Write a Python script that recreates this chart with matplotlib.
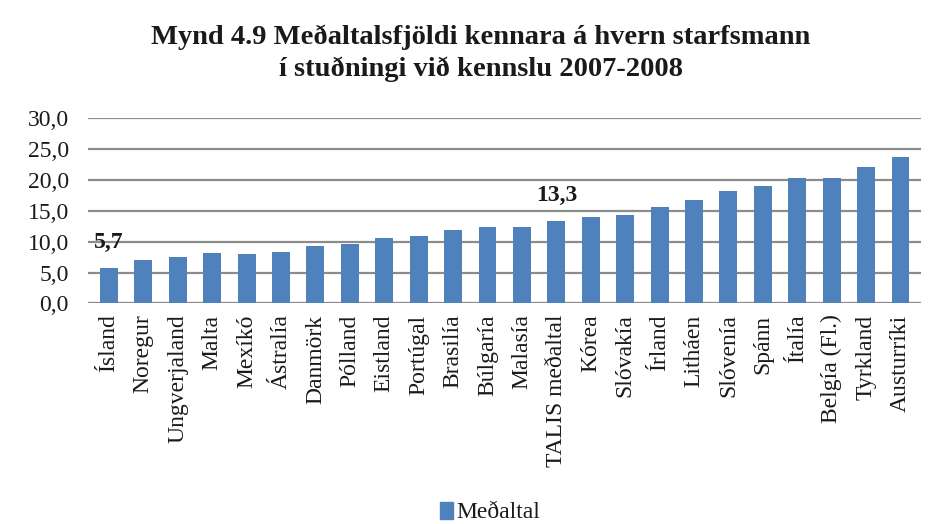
import matplotlib
matplotlib.use("Agg")
import matplotlib.pyplot as plt
from matplotlib.patches import Patch

categories = ["Ísland", "Noregur", "Ungverjaland", "Malta", "Mexíkó", "Ástralía",
              "Danmörk", "Pólland", "Eistland", "Portúgal", "Brasilía", "Búlgaría",
              "Malasía", "TALIS meðaltal", "Kórea", "Slóvakía", "Írland", "Litháen",
              "Slóvenía", "Spánn", "Ítalía", "Belgía (Fl.)", "Tyrkland", "Austurríki"]
values = [5.7, 7.0, 7.5, 8.1, 8.0, 8.3, 9.3, 9.6, 10.6, 10.9, 11.9, 12.4,
          12.4, 13.3, 14.0, 14.4, 15.7, 16.7, 18.3, 19.0, 20.3, 20.3, 22.2, 23.8]
labelled = {"Ísland": "5,7", "TALIS meðaltal": "13,3"}
yticks = [0, 5, 10, 15, 20, 25, 30]
ytick_labels = ["0,0", "5,0", "10,0", "15,0", "20,0", "25,0", "30,0"]
title = "Mynd 4.9 Meðaltalsfjöldi kennara á hvern starfsmann\ní stuðningi við kennslu 2007-2008"
legend_label = "Meðaltal"

plt.rcParams['font.family'] = ['Liberation Serif', 'DejaVu Serif']
bar_color = "#4f81bd"
grid_color = "#8c8c8c"
text_color = "#1a1a1a"

fig = plt.figure(figsize=(9.39, 5.24), dpi=100)
fig.patch.set_facecolor("white")
ax = fig.add_axes([0.094, 0.421, 0.887, 0.353])

x = list(range(len(categories)))
ax.bar(x, values, width=0.52, color=bar_color, zorder=3)
ax.set_xlim(-0.6, len(categories) - 0.4)
ax.set_ylim(0, 30)
ax.set_yticks(yticks)
ax.set_yticklabels(ytick_labels, fontsize=17, color=text_color)
ax.set_xticks(x)
ax.set_xticklabels(categories, rotation=90, fontsize=17, color=text_color)
ax.tick_params(axis='both', length=0)
ax.tick_params(axis='y', pad=14)
ax.tick_params(axis='x', pad=8)
for s in ax.spines.values():
    s.set_visible(False)
ax.yaxis.grid(True, color=grid_color, linewidth=1.6, zorder=0)
ax.set_axisbelow(True)

for i, (c, v) in enumerate(zip(categories, values)):
    if c in labelled:
        ax.annotate(labelled[c], (i, v), xytext=(0, 11), textcoords="offset points",
                    ha="center", va="bottom", fontsize=17, fontweight="bold",
                    color=text_color)

fig.text(0.512, 0.898, title, ha="center", va="center", fontsize=20.5,
         fontweight="bold", linespacing=1.32, color=text_color)

fig.legend(handles=[Patch(color=bar_color)], labels=[legend_label],
           loc="center", bbox_to_anchor=(0.522, 0.022), frameon=False,
           fontsize=17, handlelength=0.55, handleheight=0.75, handletextpad=0.15,
           labelcolor=text_color)

fig.savefig("out.png", dpi=100)
